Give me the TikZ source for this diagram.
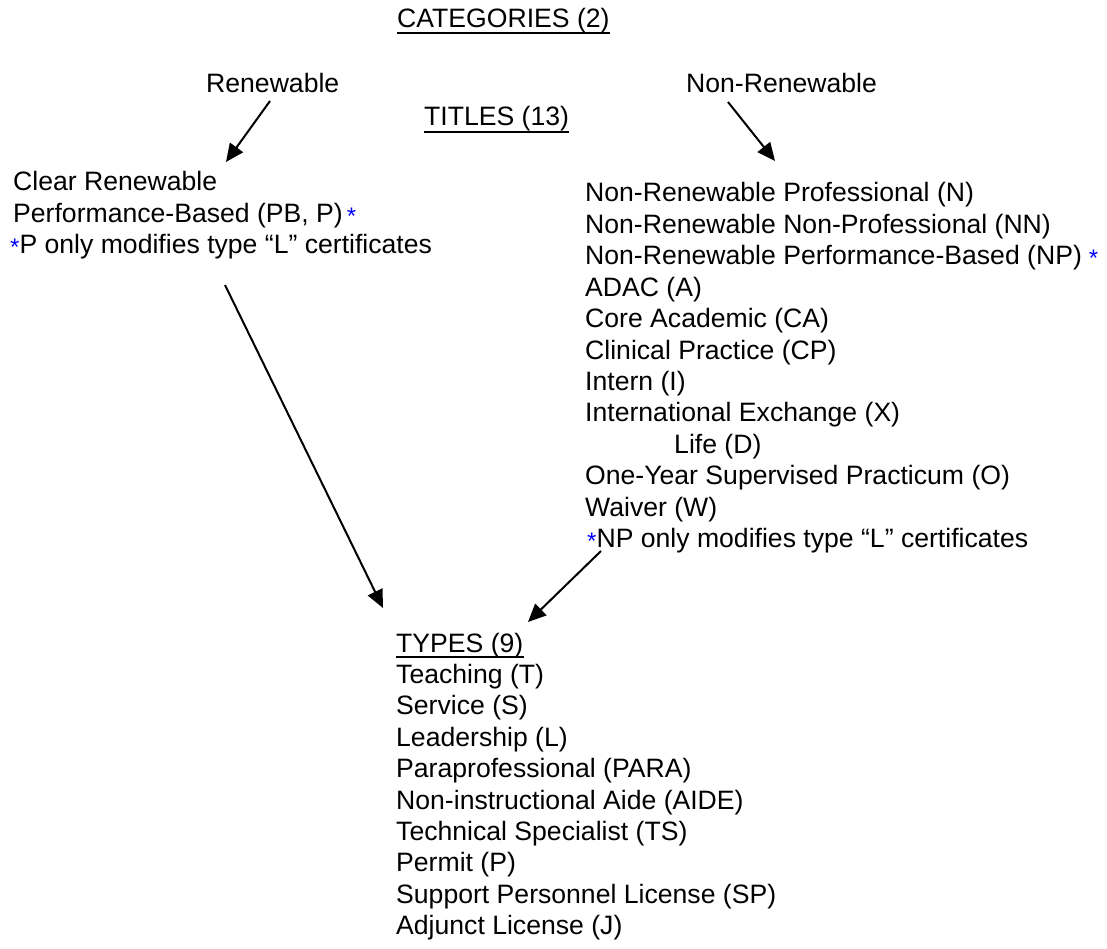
\documentclass[tikz,border=0pt]{standalone}
\usepackage{fontspec}
\setmainfont{Liberation Sans}
\usetikzlibrary{arrows.meta}
\definecolor{starblue}{RGB}{0,0,255}
\newcommand{\bstar}{\textcolor{starblue}{\raisebox{-2pt}{\fontsize{24}{24}\selectfont *}}}
\begin{document}
\begin{tikzpicture}[x=1pt,y=-1pt,
  txt/.style={anchor=base west, inner sep=0pt, font=\fontsize{26.6}{31.5}\selectfont},
  arr/.style={line width=2pt, -{Triangle[length=18pt,width=16pt]}},
  uline/.style={line width=2pt}]
\useasboundingbox (0,0) rectangle (1107,949);
% headings
\node[txt] (cat) at (397,28) {CATEGORIES (2)};
\draw[uline] ([yshift=-5pt]cat.base west) -- ([yshift=-5pt]cat.base east);
\node[txt] (ren) at (206,93) {Renewable};
\node[txt] (nonren) at (686,93) {Non-Renewable};
\node[txt] (titles) at (424,126) {TITLES (13)};
\draw[uline] ([yshift=-6pt]titles.base west) -- ([yshift=-6pt]titles.base east);
% left block
\node[txt] (cr) at (13,191) {Clear Renewable};
\node[txt] (pb) at (13,222.5) {Performance-Based (PB, P)\hspace{4pt}\bstar};
\node[txt] (pnote) at (10,254) {\bstar P only modifies type “L” certificates};
% right block
\node[txt] (r1) at (585,202) {Non-Renewable Professional (N)};
\node[txt] (r2) at (585,233.4) {Non-Renewable Non-Professional (NN)};
\node[txt] (r3) at (585,264.8) {Non-Renewable Performance-Based (NP)\hspace{7pt}\bstar};
\node[txt] (r4) at (585,296.2) {ADAC (A)};
\node[txt] (r5) at (585,327.6) {Core Academic (CA)};
\node[txt] (r6) at (585,359) {Clinical Practice (CP)};
\node[txt] (r7) at (585,390.4) {Intern (I)};
\node[txt] (r8) at (585,421.8) {International Exchange (X)};
\node[txt] (r9) at (674,453.2) {Life (D)};
\node[txt] (r10) at (585,484.6) {One-Year Supervised Practicum (O)};
\node[txt] (r11) at (585,516) {Waiver (W)};
\node[txt] (r12) at (587,547.4) {\bstar NP only modifies type “L” certificates};
% types block
\node[txt] (types) at (396,652) {TYPES (9)};
\draw[uline] ([yshift=-5pt]types.base west) -- ([yshift=-5pt]types.base east);
\node[txt] (t1) at (396,683.4) {Teaching (T)};
\node[txt] (t2) at (396,714.8) {Service (S)};
\node[txt] (t3) at (396,746.2) {Leadership (L)};
\node[txt] (t4) at (396,777.6) {Paraprofessional (PARA)};
\node[txt] (t5) at (396,809) {Non-instructional Aide (AIDE)};
\node[txt] (t6) at (396,840.4) {Technical Specialist (TS)};
\node[txt] (t7) at (396,871.8) {Permit (P)};
\node[txt] (t8) at (396,903.2) {Support Personnel License (SP)};
\node[txt] (t9) at (396,934.6) {Adjunct License (J)};
% connector ends
\coordinate (a1s) at (270,101); \coordinate (a1e) at (226,162);
\coordinate (a2s) at (728,102); \coordinate (a2e) at (775,161);
\coordinate (a3s) at (225,285); \coordinate (a3e) at (383,608);
\coordinate (a4s) at (601,551); \coordinate (a4e) at (528,622);
\draw[arr] (a1s) -- (a1e);
\draw[arr] (a2s) -- (a2e);
\draw[arr] (a3s) -- (a3e);
\draw[arr] (a4s) -- (a4e);
\end{tikzpicture}
\end{document}
